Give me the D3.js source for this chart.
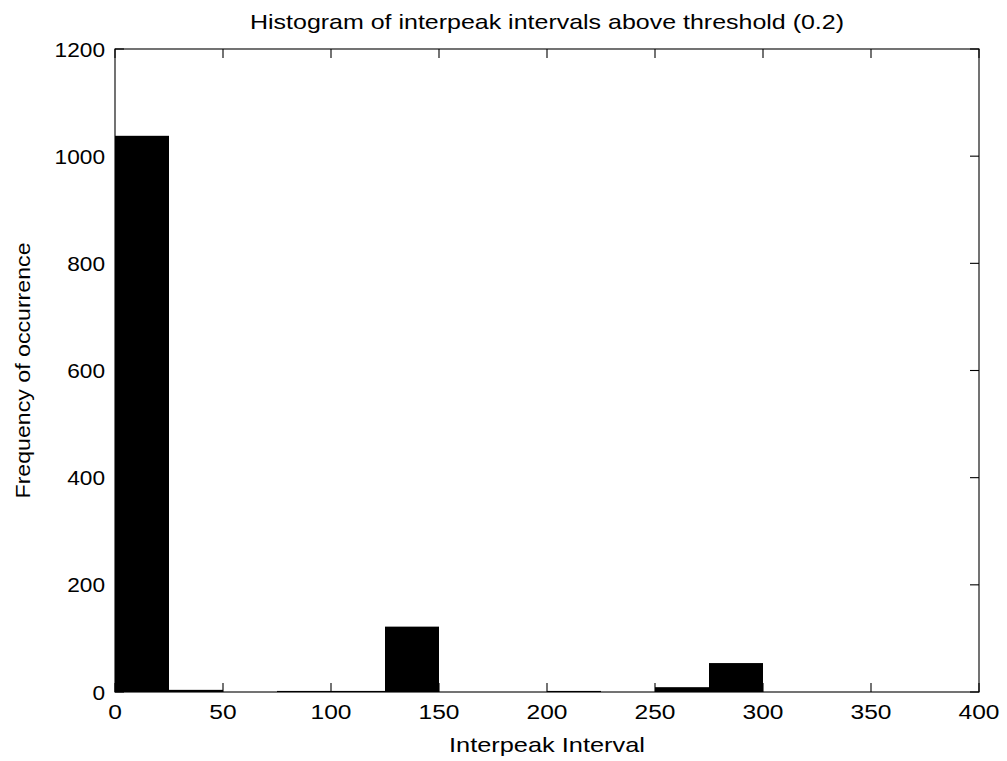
<!DOCTYPE html>
<html><head><meta charset="utf-8">
<script src="https://cdn.jsdelivr.net/npm/d3@7"></script>
<style>body{margin:0;background:#fff}svg{display:block}text{font-family:"Liberation Sans",Arial,sans-serif;fill:#000}</style>
</head><body><svg id="c" width="1007" height="761"></svg>
<script>
const binStarts = [0,25,50,75,100,125,150,175,200,225,250,275,300,325,350,375];
const counts    = [1038,4,0,2,2,122,0,0,2,0,9,54,0,0,0,0];
const binWidth = 25;
const xTicks = [0,50,100,150,200,250,300,350,400];
const yTicks = [0,200,400,600,800,1000,1200];
const title = "Histogram of interpeak intervals above threshold (0.2)";
const xLabel = "Interpeak Interval";
const yLabel = "Frequency of occurrence";

const svg = d3.select("#c");
const L=115, R=979, T=49, B=692;
const x = d3.scaleLinear().domain([0,400]).range([L,R]);
const y = d3.scaleLinear().domain([0,1200]).range([B,T]);

svg.append("g").selectAll("rect").data(binStarts).join("rect")
  .attr("x",d=>x(d)).attr("width",d=>x(d+binWidth)-x(d))
  .attr("y",(d,i)=>y(counts[i])).attr("height",(d,i)=>B-y(counts[i]))
  .attr("fill","#000");

const tl=9;
const ax = svg.append("g").attr("stroke","#000").attr("stroke-width",1.1);
ax.append("rect").attr("x",L).attr("y",T).attr("width",R-L).attr("height",B-T).attr("fill","none");
xTicks.forEach(t=>{
  ax.append("line").attr("x1",x(t)).attr("x2",x(t)).attr("y1",B).attr("y2",B-tl);
  ax.append("line").attr("x1",x(t)).attr("x2",x(t)).attr("y1",T).attr("y2",T+tl);
});
yTicks.forEach(t=>{
  ax.append("line").attr("x1",L).attr("x2",L+tl).attr("y1",y(t)).attr("y2",y(t));
  ax.append("line").attr("x1",R).attr("x2",R-tl).attr("y1",y(t)).attr("y2",y(t));
});
const fs=21, sx=1.17;
svg.append("g").selectAll("text").data(xTicks).join("text")
  .attr("transform",d=>`translate(${x(d)},${B+27}) scale(${sx},1)`)
  .attr("text-anchor","middle").attr("font-size",fs).text(d=>d);
svg.append("g").selectAll("text").data(yTicks).join("text")
  .attr("transform",d=>`translate(${L-10},${y(d)+7.5}) scale(1.08,1)`)
  .attr("text-anchor","end").attr("font-size",fs).text(d=>d);
svg.append("text").attr("x",(L+R)/2).attr("y",29).attr("text-anchor","middle").attr("font-size",fs)
  .attr("textLength",594).attr("lengthAdjust","spacingAndGlyphs").text(title);
svg.append("text").attr("x",(L+R)/2).attr("y",752).attr("text-anchor","middle").attr("font-size",fs)
  .attr("textLength",196).attr("lengthAdjust","spacingAndGlyphs").text(xLabel);
svg.append("text").attr("transform",`translate(30,${(T+B)/2}) rotate(-90)`).attr("text-anchor","middle").attr("font-size",fs)
  .attr("textLength",256).attr("lengthAdjust","spacingAndGlyphs").text(yLabel);
</script></body></html>
